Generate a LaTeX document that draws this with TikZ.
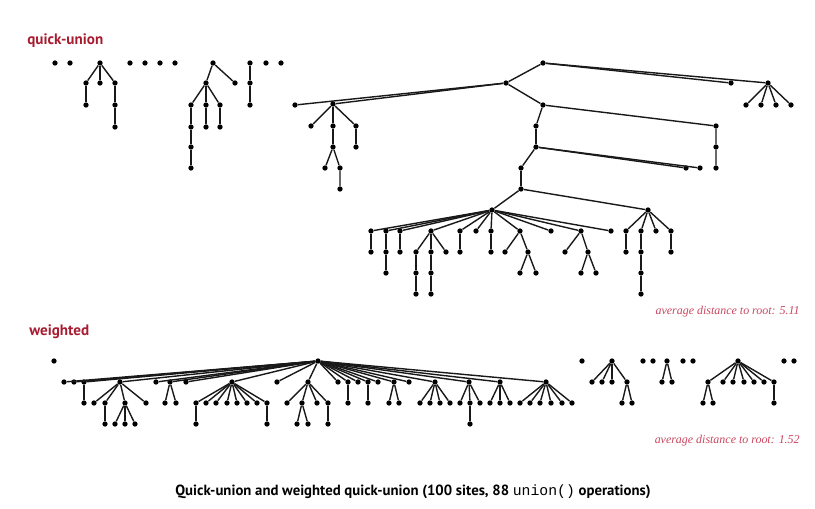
\documentclass[tikz,border=0pt]{standalone}
\usepackage{fontspec}
\setmainfont{Liberation Serif}
\setsansfont{PT Sans}
\setmonofont{Liberation Mono}
\definecolor{headred}{RGB}{168,28,48}
\definecolor{notered}{RGB}{200,70,95}
\tikzstyle{site}=[circle,fill=black,minimum size=3pt,inner sep=0pt]
\tikzstyle{link}=[line width=0.8pt,black!90]
\tikzstyle{head}=[anchor=west,inner sep=0pt,text=headred,font=\sffamily\bfseries\fontsize{8.6}{10}\selectfont]
\tikzstyle{note}=[anchor=east,inner sep=0pt,text=notered,font=\itshape\fontsize{6.8}{8}\selectfont]

\begin{document}
\begin{tikzpicture}[x=0.02cm,y=-0.02cm]
\useasboundingbox (0,0) rectangle (815,508);

\node[head] (quhead) at (27,41) {quick-union};
\node[head] (wthead) at (29,332) {weighted};

% quick-union: small trees
\node[site] (q1) at (55,63) {};
\node[site] (q2) at (70,63) {};
\node[site] (q3) at (100,63) {};
\node[site] (q4) at (86,83) {};
\node[site] (q5) at (100,83) {};
\node[site] (q6) at (115,83) {};
\node[site] (q7) at (86,105) {};
\node[site] (q8) at (115,105) {};
\node[site] (q9) at (115,127) {};
\node[site] (q10) at (130,63) {};
\node[site] (q11) at (145,63) {};
\node[site] (q12) at (160,63) {};
\node[site] (q13) at (175,63) {};
\node[site] (q14) at (213,63) {};
\node[site] (q15) at (206,83) {};
\node[site] (q16) at (235,83) {};
\node[site] (q17) at (191,105) {};
\node[site] (q18) at (206,105) {};
\node[site] (q19) at (220,105) {};
\node[site] (q20) at (191,127) {};
\node[site] (q21) at (191,147) {};
\node[site] (q22) at (191,168) {};
\node[site] (q23) at (206,127) {};
\node[site] (q24) at (220,127) {};
\node[site] (q25) at (250,63) {};
\node[site] (q26) at (250,83) {};
\node[site] (q27) at (250,105) {};
\node[site] (q28) at (266,63) {};
\node[site] (q29) at (281,63) {};

% quick-union: big tree
\node[site] (q30) at (543,63) {};
\node[site] (q31) at (506,83) {};
\node[site] (q32) at (731,83) {};
\node[site] (q33) at (768,83) {};
\node[site] (q34) at (746,105) {};
\node[site] (q35) at (761,105) {};
\node[site] (q36) at (776,105) {};
\node[site] (q37) at (791,105) {};
\node[site] (q38) at (295,105) {};
\node[site] (q39) at (333,104) {};
\node[site] (q40) at (311,126) {};
\node[site] (q41) at (333,126) {};
\node[site] (q42) at (356,126) {};
\node[site] (q43) at (356,147) {};
\node[site] (q44) at (333,147) {};
\node[site] (q45) at (325,168) {};
\node[site] (q46) at (340,168) {};
\node[site] (q47) at (340,189) {};
\node[site] (q48) at (543,105) {};
\node[site] (q49) at (536,126) {};
\node[site] (q50) at (716,126) {};
\node[site] (q51) at (716,147) {};
\node[site] (q52) at (716,168) {};
\node[site] (q53) at (536,147) {};
\node[site] (q54) at (521,168) {};
\node[site] (q55) at (686,168) {};
\node[site] (q56) at (700,168) {};
\node[site] (q57) at (521,189) {};
\node[site] (q58) at (492,210) {};
\node[site] (q59) at (648,210) {};
\node[site] (q60) at (371,231) {};
\node[site] (q61) at (386,231) {};
\node[site] (q62) at (400,231) {};
\node[site] (q63) at (431,231) {};
\node[site] (q64) at (460,231) {};
\node[site] (q65) at (476,231) {};
\node[site] (q66) at (491,231) {};
\node[site] (q67) at (520,231) {};
\node[site] (q68) at (551,231) {};
\node[site] (q69) at (581,231) {};
\node[site] (q70) at (611,231) {};
\node[site] (q71) at (371,252) {};
\node[site] (q72) at (386,252) {};
\node[site] (q73) at (386,273) {};
\node[site] (q74) at (400,252) {};
\node[site] (q75) at (416,252) {};
\node[site] (q76) at (431,252) {};
\node[site] (q77) at (446,252) {};
\node[site] (q78) at (416,273) {};
\node[site] (q79) at (416,294) {};
\node[site] (q80) at (431,273) {};
\node[site] (q81) at (431,294) {};
\node[site] (q82) at (460,252) {};
\node[site] (q83) at (491,252) {};
\node[site] (q84) at (505,252) {};
\node[site] (q85) at (528,252) {};
\node[site] (q86) at (520,273) {};
\node[site] (q87) at (536,273) {};
\node[site] (q88) at (565,252) {};
\node[site] (q89) at (588,252) {};
\node[site] (q90) at (581,273) {};
\node[site] (q91) at (596,273) {};
\node[site] (q92) at (626,231) {};
\node[site] (q93) at (641,231) {};
\node[site] (q94) at (656,231) {};
\node[site] (q95) at (671,231) {};
\node[site] (q96) at (626,252) {};
\node[site] (q97) at (641,252) {};
\node[site] (q98) at (641,273) {};
\node[site] (q99) at (641,294) {};
\node[site] (q100) at (671,252) {};

\draw[link] (q3) -- (q4); \draw[link] (q3) -- (q5); \draw[link] (q3) -- (q6);
\draw[link] (q4) -- (q7); \draw[link] (q6) -- (q8) -- (q9);
\draw[link] (q14) -- (q15); \draw[link] (q14) -- (q16);
\draw[link] (q15) -- (q17); \draw[link] (q15) -- (q18); \draw[link] (q15) -- (q19);
\draw[link] (q17) -- (q20) -- (q21) -- (q22);
\draw[link] (q18) -- (q23); \draw[link] (q19) -- (q24);
\draw[link] (q25) -- (q26) -- (q27);
\draw[link] (q30) -- (q31); \draw[link] (q30) -- (q32); \draw[link] (q30) -- (q33);
\draw[link] (q33) -- (q34); \draw[link] (q33) -- (q35); \draw[link] (q33) -- (q36); \draw[link] (q33) -- (q37);
\draw[link] (q31) -- (q38); \draw[link] (q31) -- (q39); \draw[link] (q31) -- (q48);
\draw[link] (q39) -- (q40); \draw[link] (q39) -- (q41); \draw[link] (q39) -- (q42);
\draw[link] (q42) -- (q43); \draw[link] (q41) -- (q44);
\draw[link] (q44) -- (q45); \draw[link] (q44) -- (q46) -- (q47);
\draw[link] (q48) -- (q49); \draw[link] (q48) -- (q50) -- (q51) -- (q52);
\draw[link] (q49) -- (q53);
\draw[link] (q53) -- (q54); \draw[link] (q53) -- (q55); \draw[link] (q53) -- (q56);
\draw[link] (q54) -- (q57);
\draw[link] (q57) -- (q58); \draw[link] (q57) -- (q59);
\draw[link] (q58) -- (q60); \draw[link] (q58) -- (q61); \draw[link] (q58) -- (q62);
\draw[link] (q58) -- (q63); \draw[link] (q58) -- (q64); \draw[link] (q58) -- (q65);
\draw[link] (q58) -- (q66); \draw[link] (q58) -- (q67); \draw[link] (q58) -- (q68);
\draw[link] (q58) -- (q69); \draw[link] (q58) -- (q70);
\draw[link] (q60) -- (q71); \draw[link] (q61) -- (q72) -- (q73); \draw[link] (q62) -- (q74);
\draw[link] (q63) -- (q75); \draw[link] (q63) -- (q76); \draw[link] (q63) -- (q77);
\draw[link] (q75) -- (q78) -- (q79); \draw[link] (q76) -- (q80) -- (q81);
\draw[link] (q64) -- (q82); \draw[link] (q66) -- (q83);
\draw[link] (q67) -- (q84); \draw[link] (q67) -- (q85);
\draw[link] (q85) -- (q86); \draw[link] (q85) -- (q87);
\draw[link] (q69) -- (q88); \draw[link] (q69) -- (q89);
\draw[link] (q89) -- (q90); \draw[link] (q89) -- (q91);
\draw[link] (q59) -- (q92); \draw[link] (q59) -- (q93); \draw[link] (q59) -- (q94); \draw[link] (q59) -- (q95);
\draw[link] (q92) -- (q96); \draw[link] (q93) -- (q97) -- (q98) -- (q99); \draw[link] (q95) -- (q100);

\node[note] (qunote) at (800,312) {average distance to root: 5.11};

% weighted: big tree
\node[site] (w1) at (54,361) {};
\node[site] (w2) at (318,361) {};
\node[site] (w3) at (64,382) {};
\node[site] (w4) at (74,382) {};
\node[site] (w5) at (84,382) {};
\node[site] (w6) at (120,382) {};
\node[site] (w7) at (156,382) {};
\node[site] (w8) at (170,382) {};
\node[site] (w9) at (186,382) {};
\node[site] (w10) at (232,382) {};
\node[site] (w11) at (277,382) {};
\node[site] (w12) at (308,382) {};
\node[site] (w13) at (338,382) {};
\node[site] (w14) at (348,382) {};
\node[site] (w15) at (358,382) {};
\node[site] (w16) at (368,382) {};
\node[site] (w17) at (378,382) {};
\node[site] (w18) at (394,382) {};
\node[site] (w19) at (409,382) {};
\node[site] (w20) at (435,382) {};
\node[site] (w21) at (469,382) {};
\node[site] (w22) at (500,382) {};
\node[site] (w23) at (546,382) {};
\node[site] (w24) at (84,403) {};
\node[site] (w25) at (94,403) {};
\node[site] (w26) at (105,403) {};
\node[site] (w27) at (125,403) {};
\node[site] (w28) at (146,403) {};
\node[site] (w29) at (105,424) {};
\node[site] (w30) at (115,424) {};
\node[site] (w31) at (125,424) {};
\node[site] (w32) at (135,424) {};
\node[site] (w33) at (165,403) {};
\node[site] (w34) at (176,403) {};
\node[site] (w35) at (196,403) {};
\node[site] (w36) at (206,403) {};
\node[site] (w37) at (216,403) {};
\node[site] (w38) at (227,403) {};
\node[site] (w39) at (237,403) {};
\node[site] (w40) at (247,403) {};
\node[site] (w41) at (257,403) {};
\node[site] (w42) at (267,403) {};
\node[site] (w43) at (196,424) {};
\node[site] (w44) at (267,424) {};
\node[site] (w45) at (287,403) {};
\node[site] (w46) at (302,403) {};
\node[site] (w47) at (317,403) {};
\node[site] (w48) at (328,403) {};
\node[site] (w49) at (297,424) {};
\node[site] (w50) at (308,424) {};
\node[site] (w51) at (328,424) {};
\node[site] (w52) at (348,403) {};
\node[site] (w53) at (368,403) {};
\node[site] (w54) at (389,403) {};
\node[site] (w55) at (399,403) {};
\node[site] (w56) at (420,403) {};
\node[site] (w57) at (430,403) {};
\node[site] (w58) at (440,403) {};
\node[site] (w59) at (450,403) {};
\node[site] (w60) at (460,403) {};
\node[site] (w61) at (470,403) {};
\node[site] (w62) at (480,403) {};
\node[site] (w63) at (470,424) {};
\node[site] (w64) at (490,403) {};
\node[site] (w65) at (500,403) {};
\node[site] (w66) at (510,403) {};
\node[site] (w67) at (520,403) {};
\node[site] (w68) at (530,403) {};
\node[site] (w69) at (540,403) {};
\node[site] (w70) at (551,403) {};
\node[site] (w71) at (562,403) {};
\node[site] (w72) at (572,403) {};

% weighted: small trees
\node[site] (w73) at (582,361) {};
\node[site] (w74) at (612,361) {};
\node[site] (w75) at (592,382) {};
\node[site] (w76) at (602,382) {};
\node[site] (w77) at (612,382) {};
\node[site] (w78) at (627,382) {};
\node[site] (w79) at (622,403) {};
\node[site] (w80) at (632,403) {};
\node[site] (w81) at (643,361) {};
\node[site] (w82) at (653,361) {};
\node[site] (w83) at (667,361) {};
\node[site] (w84) at (662,382) {};
\node[site] (w85) at (672,382) {};
\node[site] (w86) at (683,361) {};
\node[site] (w87) at (693,361) {};
\node[site] (w88) at (738,361) {};
\node[site] (w89) at (708,382) {};
\node[site] (w90) at (723,382) {};
\node[site] (w91) at (733,382) {};
\node[site] (w92) at (744,382) {};
\node[site] (w93) at (754,382) {};
\node[site] (w94) at (764,382) {};
\node[site] (w95) at (774,382) {};
\node[site] (w96) at (703,403) {};
\node[site] (w97) at (713,403) {};
\node[site] (w98) at (774,403) {};
\node[site] (w99) at (784,361) {};
\node[site] (w100) at (794,361) {};

\draw[link] (w2) -- (w3); \draw[link] (w2) -- (w4); \draw[link] (w2) -- (w5);
\draw[link] (w2) -- (w6); \draw[link] (w2) -- (w7); \draw[link] (w2) -- (w8);
\draw[link] (w2) -- (w9); \draw[link] (w2) -- (w10); \draw[link] (w2) -- (w11);
\draw[link] (w2) -- (w12); \draw[link] (w2) -- (w13); \draw[link] (w2) -- (w14);
\draw[link] (w2) -- (w15); \draw[link] (w2) -- (w16); \draw[link] (w2) -- (w17);
\draw[link] (w2) -- (w18); \draw[link] (w2) -- (w19); \draw[link] (w2) -- (w20);
\draw[link] (w2) -- (w21); \draw[link] (w2) -- (w22); \draw[link] (w2) -- (w23);
\draw[link] (w5) -- (w24);
\draw[link] (w6) -- (w25); \draw[link] (w6) -- (w26); \draw[link] (w6) -- (w27); \draw[link] (w6) -- (w28);
\draw[link] (w26) -- (w29);
\draw[link] (w27) -- (w30); \draw[link] (w27) -- (w31); \draw[link] (w27) -- (w32);
\draw[link] (w8) -- (w33); \draw[link] (w8) -- (w34);
\draw[link] (w10) -- (w35); \draw[link] (w10) -- (w36); \draw[link] (w10) -- (w37); \draw[link] (w10) -- (w38);
\draw[link] (w10) -- (w39); \draw[link] (w10) -- (w40); \draw[link] (w10) -- (w41); \draw[link] (w10) -- (w42);
\draw[link] (w35) -- (w43); \draw[link] (w42) -- (w44);
\draw[link] (w12) -- (w45); \draw[link] (w12) -- (w46); \draw[link] (w12) -- (w47); \draw[link] (w12) -- (w48);
\draw[link] (w46) -- (w49); \draw[link] (w46) -- (w50); \draw[link] (w48) -- (w51);
\draw[link] (w14) -- (w52); \draw[link] (w16) -- (w53);
\draw[link] (w18) -- (w54); \draw[link] (w18) -- (w55);
\draw[link] (w20) -- (w56); \draw[link] (w20) -- (w57); \draw[link] (w20) -- (w58); \draw[link] (w20) -- (w59);
\draw[link] (w21) -- (w60); \draw[link] (w21) -- (w61); \draw[link] (w21) -- (w62); \draw[link] (w61) -- (w63);
\draw[link] (w22) -- (w64); \draw[link] (w22) -- (w65); \draw[link] (w22) -- (w66);
\draw[link] (w23) -- (w67); \draw[link] (w23) -- (w68); \draw[link] (w23) -- (w69);
\draw[link] (w23) -- (w70); \draw[link] (w23) -- (w71); \draw[link] (w23) -- (w72);
\draw[link] (w74) -- (w75); \draw[link] (w74) -- (w76); \draw[link] (w74) -- (w77); \draw[link] (w74) -- (w78);
\draw[link] (w78) -- (w79); \draw[link] (w78) -- (w80);
\draw[link] (w83) -- (w84); \draw[link] (w83) -- (w85);
\draw[link] (w88) -- (w89); \draw[link] (w88) -- (w90); \draw[link] (w88) -- (w91); \draw[link] (w88) -- (w92);
\draw[link] (w88) -- (w93); \draw[link] (w88) -- (w94); \draw[link] (w88) -- (w95);
\draw[link] (w89) -- (w96); \draw[link] (w89) -- (w97); \draw[link] (w95) -- (w98);

\node[note] (wtnote) at (800,441) {average distance to root: 1.52};

\node[font=\sffamily\bfseries\fontsize{8.4}{10}\selectfont] (caption) at (413,492)
  {Quick-union and weighted quick-union (100 sites, 88 {\ttfamily\mdseries union()} operations)};
\end{tikzpicture}
\end{document}
